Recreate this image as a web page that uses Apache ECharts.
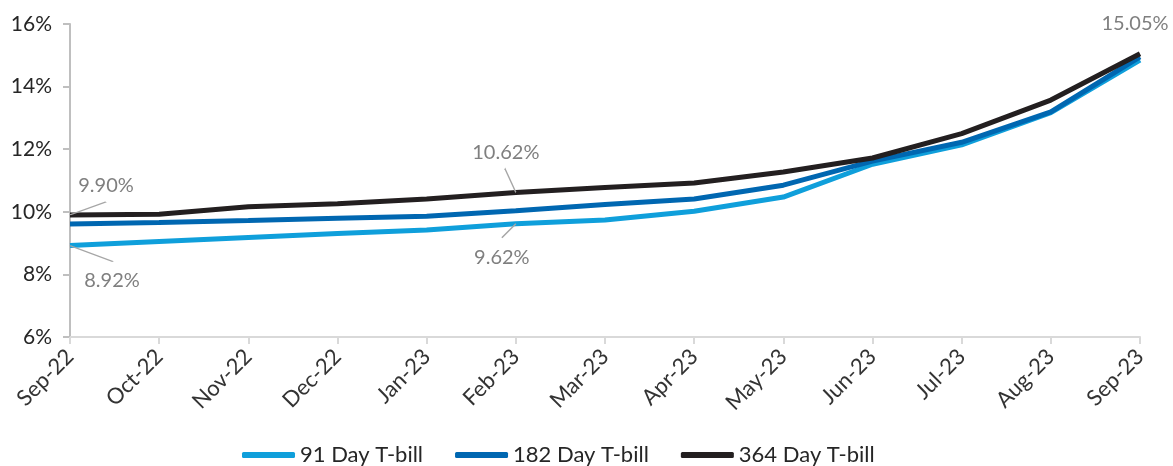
<!DOCTYPE html>
<html>
<head>
<meta charset="utf-8">
<script src="https://cdn.jsdelivr.net/npm/echarts@6/dist/echarts.min.js"></script>
<style>
  html, body { margin: 0; padding: 0; background: #fff; }
  #chart { width: 1173px; height: 466px; }
</style>
</head>
<body>
<div id="chart"></div>
<script>
// Monthly T-bill yields (%)
var months = ['Sep-22', 'Oct-22', 'Nov-22', 'Dec-22', 'Jan-23', 'Feb-23', 'Mar-23',
              'Apr-23', 'May-23', 'Jun-23', 'Jul-23', 'Aug-23', 'Sep-23'];
var tbill91  = [8.92, 9.05, 9.18, 9.31, 9.42, 9.62, 9.74, 10.02, 10.47, 11.52, 12.14, 13.17, 14.85];
var tbill182 = [9.61, 9.66, 9.72, 9.79, 9.86, 10.03, 10.23, 10.41, 10.85, 11.62, 12.22, 13.19, 14.95];
var tbill364 = [9.90, 9.92, 10.16, 10.26, 10.41, 10.62, 10.78, 10.92, 11.27, 11.72, 12.50, 13.57, 15.05];
var yTicks = [6, 8, 10, 12, 14, 16];

var FONT = 'Lato, "Noto Sans", sans-serif';
var ANNO = '#7f7f7f';
var LEADER = '#a6a6a6';
var COLORS = ['#0f9fdb', '#0067b1', '#231f20'];

// Callouts per series: data index -> label shift [dx, dy], label side, leader vector [x, y] (px) or null
var callouts = {
  0: {
    0: { shift: [42, 20], side: 'bottom', leader: [43, 16] },
    5: { shift: [-14, 19], side: 'bottom', leader: [-14, 14] }
  },
  2: {
    0: { shift: [36, -14], side: 'top', leader: [36, -13] },
    5: { shift: [-10, -25], side: 'top', leader: [-11, -24] },
    12: { shift: [-5, -15], side: 'top', leader: null }
  }
};

function pct(p) { return Number(p.value).toFixed(2) + '%'; }

function withLabels(values, marks) {
  if (!marks) return values;
  return values.map(function (v, i) {
    var m = marks[i];
    if (!m) return v;
    return { value: v, label: { show: true, position: m.side, formatter: pct } };
  });
}

// Short gray leader strokes starting at the annotated point
function leaders(values, marks) {
  var out = [];
  if (!marks) return out;
  Object.keys(marks).forEach(function (k) {
    var m = marks[k], i = +k;
    if (!m.leader) return;
    var lx = m.leader[0], ly = m.leader[1];
    var w = Math.abs(lx), h = Math.abs(ly);
    var x0 = lx < 0 ? w : 0, y0 = ly < 0 ? h : 0;
    out.push({
      coord: [i, values[i]],
      symbol: 'path://M' + x0 + ',' + y0 + ' L' + (w - x0) + ',' + (h - y0),
      symbolSize: [w, h],
      symbolOffset: [lx / 2, ly / 2]
    });
  });
  return out;
}

function layoutFor(idx) {
  return function (params) {
    var m = callouts[idx] && callouts[idx][params.dataIndex];
    return m ? { dx: m.shift[0], dy: m.shift[1] } : {};
  };
}

function lineSeries(name, values, idx) {
  var marks = callouts[idx];
  var s = {
    name: name,
    type: 'line',
    data: withLabels(values, marks),
    symbol: 'circle',
    symbolSize: 0,
    showSymbol: true,
    itemStyle: { color: COLORS[idx] },
    lineStyle: { color: COLORS[idx], width: 5 },
    emphasis: { disabled: true },
    z: 2 + idx,
    label: {
      show: false,
      distance: 5,
      color: ANNO,
      fontFamily: FONT,
      fontSize: 20
    },
    labelLayout: layoutFor(idx)
  };
  var lm = leaders(values, marks);
  if (lm.length) {
    s.markPoint = {
      silent: true,
      animation: false,
      label: { show: false },
      itemStyle: { color: 'none', borderColor: LEADER, borderWidth: 1.5 },
      data: lm
    };
  }
  return s;
}

var chart = echarts.init(document.getElementById('chart'), null, { renderer: 'canvas' });

chart.setOption({
  animation: false,
  backgroundColor: '#ffffff',
  grid: { left: 70, right: 33, top: 24, bottom: 129, containLabel: false },
  legend: {
    top: 439,
    left: 237,
    itemWidth: 53,
    itemHeight: 6,
    itemGap: 32,
    icon: 'roundRect',
    textStyle: { fontFamily: FONT, fontSize: 22, color: '#262626' },
    data: [
      { name: '91 Day T-bill', itemStyle: { color: COLORS[0] } },
      { name: '182 Day T-bill', itemStyle: { color: COLORS[1] } },
      { name: '364 Day T-bill', itemStyle: { color: COLORS[2] } }
    ]
  },
  xAxis: {
    type: 'category',
    data: months,
    boundaryGap: false,
    axisLine: { lineStyle: { color: '#d9d9d9', width: 2 } },
    axisTick: { show: true, length: 7, lineStyle: { color: '#d9d9d9', width: 2 } },
    axisLabel: {
      rotate: 45,
      margin: 16,
      fontFamily: FONT,
      fontSize: 22,
      color: '#333333',
      interval: 0
    },
    splitLine: { show: false }
  },
  yAxis: {
    type: 'value',
    min: yTicks[0],
    max: yTicks[yTicks.length - 1],
    interval: 2,
    axisLine: { show: true, lineStyle: { color: '#bfbfbf', width: 2 } },
    axisTick: { show: true, length: 7, lineStyle: { color: '#bfbfbf', width: 2 } },
    axisLabel: {
      margin: 18,
      fontFamily: FONT,
      fontSize: 21,
      color: '#262626',
      formatter: function (v) { return v + '%'; }
    },
    splitLine: { show: false }
  },
  series: [
    lineSeries('91 Day T-bill', tbill91, 0),
    lineSeries('182 Day T-bill', tbill182, 1),
    lineSeries('364 Day T-bill', tbill364, 2)
  ]
});
</script>
</body>
</html>
